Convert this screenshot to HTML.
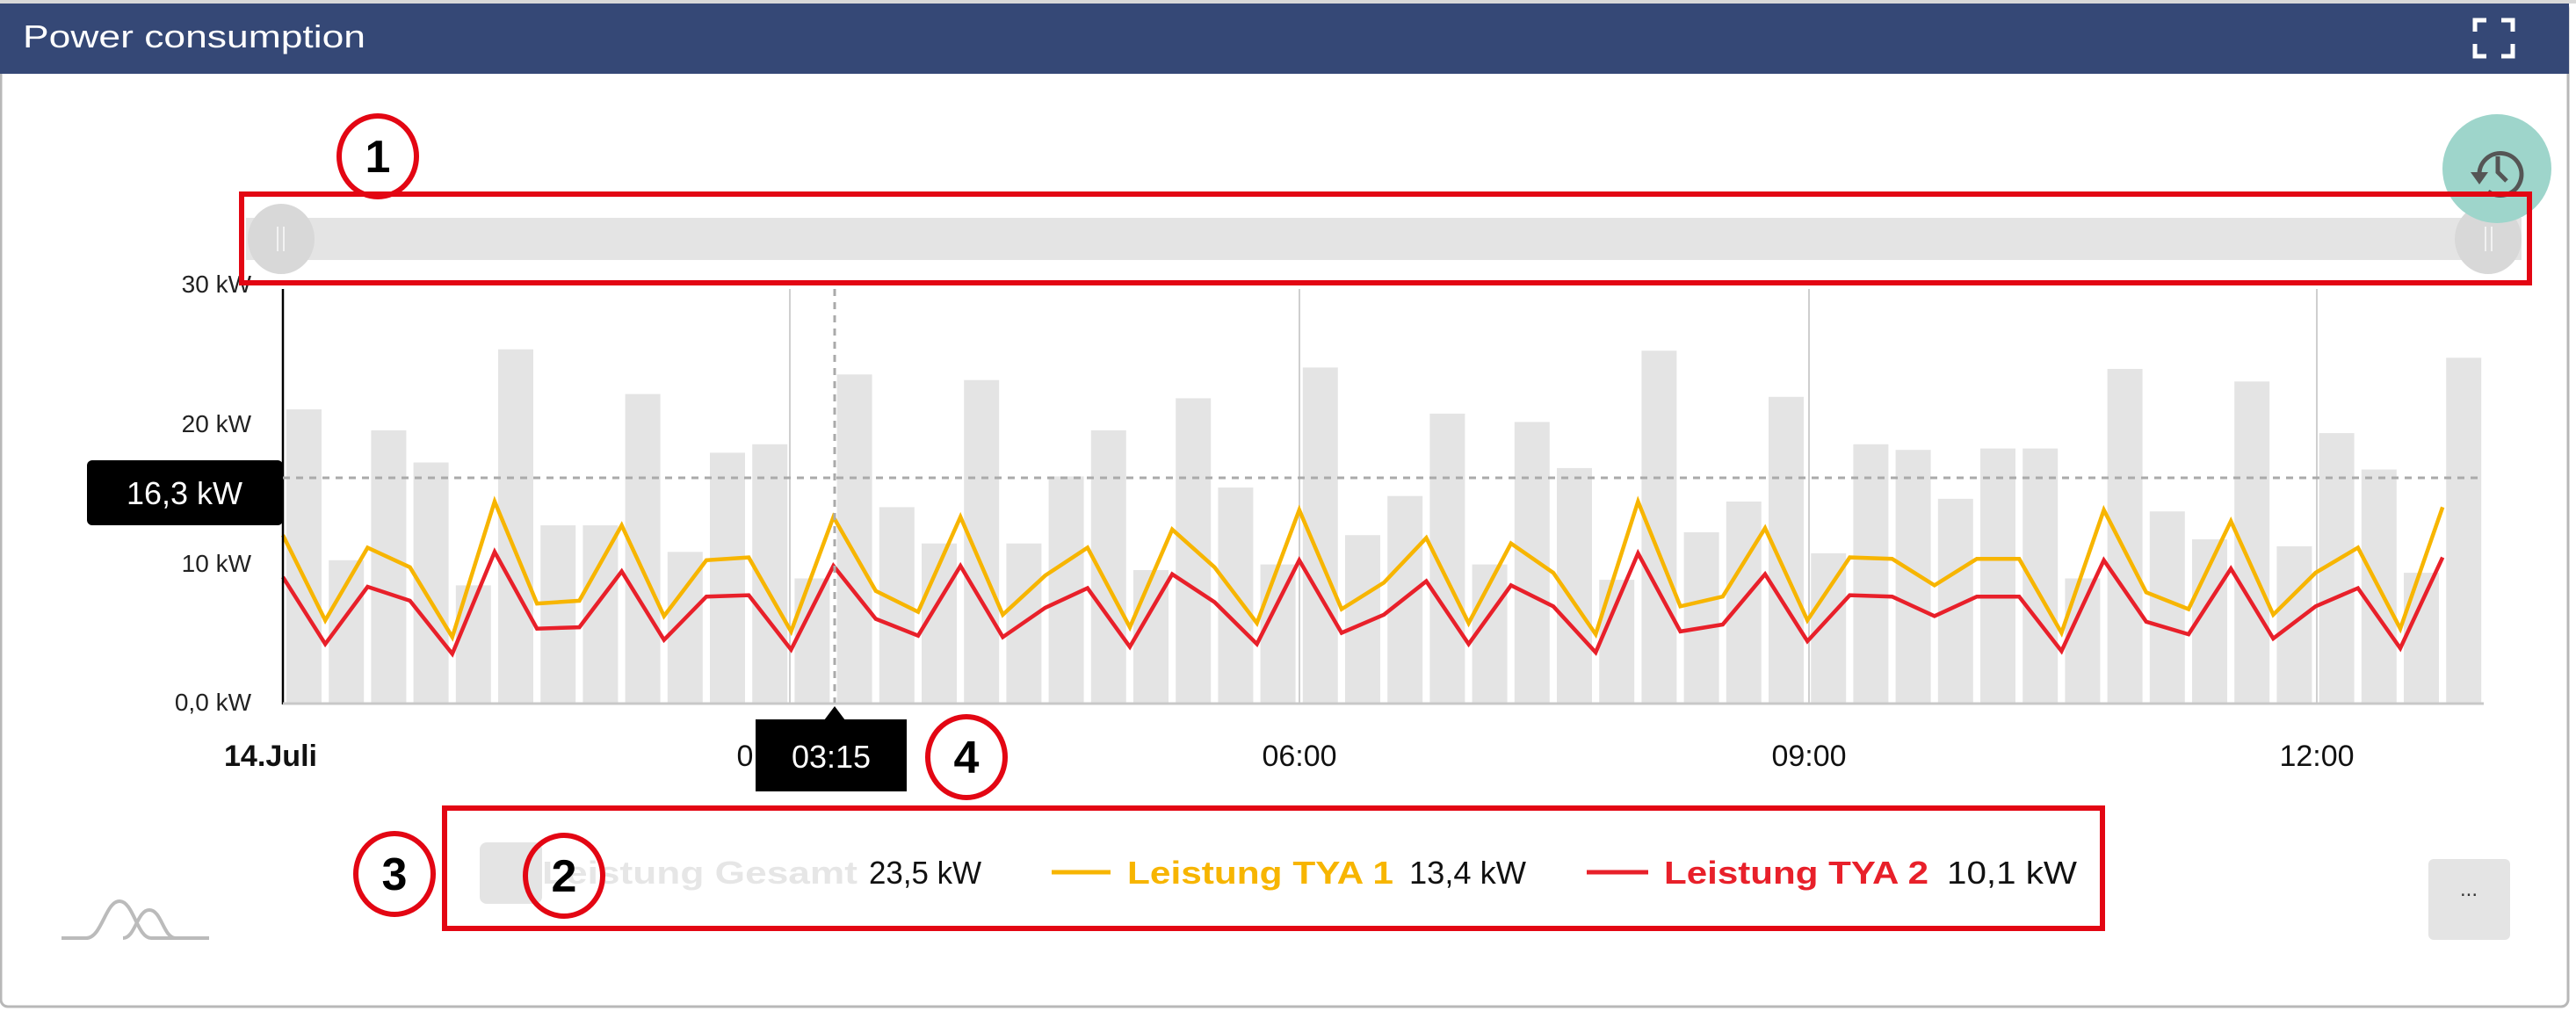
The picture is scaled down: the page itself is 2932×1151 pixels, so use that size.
<!DOCTYPE html>
<html><head><meta charset="utf-8"><style>
html,body{margin:0;padding:0;background:#fff;width:2932px;height:1151px;overflow:hidden}
svg{display:block;font-family:"Liberation Sans",sans-serif}
</style></head><body>
<svg id="s" width="2932" height="1151" viewBox="0 0 2932 1151" xmlns="http://www.w3.org/2000/svg">
<rect x="0" y="0" width="2932" height="1151" fill="#fff"/>
<rect x="1" y="2" width="2922" height="1144" rx="8" fill="#fff" stroke="#b8b8b8" stroke-width="3"/>
<rect x="0" y="0" width="2932" height="4" fill="#d8d8d8"/>
<rect x="0" y="4" width="2924" height="80" fill="#354876"/>
<text x="26" y="54" font-size="36" fill="#fff" textLength="390" lengthAdjust="spacingAndGlyphs">Power consumption</text>
<g fill="none" stroke="#fff" stroke-width="5">
<path d="M2817 36V23h13M2847 23h13v13M2860 50v14h-13M2830 64h-13V50"/>
</g>
<!-- slider -->
<rect x="280" y="248" width="2590" height="48" fill="#e4e4e4"/>
<ellipse cx="320" cy="272" rx="38" ry="40" fill="#d8d8d8"/>
<path d="M316 258v28M323 258v28" stroke="#f2f2f2" stroke-width="2"/>
<ellipse cx="2832" cy="272" rx="38" ry="40" fill="#d8d8d8"/>
<path d="M2829 258v28M2836 258v28" stroke="#f2f2f2" stroke-width="2"/>
<circle cx="2842" cy="192" r="62" fill="#9ed5cb"/>
<g fill="none" stroke="#555" stroke-width="5">
<path d="M2822 200a24 24 0 1 1 10 18"/><path d="M2843 178v18l10 10"/>
</g>
<path d="M2812 196l10 14 10 -14z" fill="#555"/>
<g id="plot"></g>
<!-- axes -->
<line x1="322" y1="329" x2="322" y2="802" stroke="#000" stroke-width="2.5"/>
<line x1="322" y1="801" x2="2827" y2="801" stroke="#c8c8c8" stroke-width="3"/>
<g font-size="28" fill="#222" text-anchor="end">
<text x="286" y="333">30 kW</text><text x="286" y="492">20 kW</text>
<text x="286" y="651">10 kW</text><text x="286" y="809">0,0 kW</text>
</g>
<line x1="322" y1="544" x2="2827" y2="544" stroke="#aaa" stroke-width="3" stroke-dasharray="8 7"/>
<line x1="950" y1="329" x2="950" y2="800" stroke="#aaa" stroke-width="3" stroke-dasharray="8 7"/>
<g font-size="34" fill="#111" text-anchor="middle">
<text x="308" y="872" font-weight="bold" textLength="106" lengthAdjust="spacingAndGlyphs">14.Juli</text>
<text x="1479" y="872">06:00</text><text x="2059" y="872">09:00</text><text x="2637" y="872">12:00</text>
<text x="848" y="872">0</text>
</g>
<!-- tooltips -->
<rect x="99" y="524" width="223" height="74" rx="6" fill="#000"/>
<text x="210" y="574" font-size="36" fill="#fff" text-anchor="middle">16,3 kW</text>
<rect x="860" y="819" width="172" height="82" fill="#000"/>
<path d="M938 820l12 -16 12 16z" fill="#000"/>
<text x="946" y="874" font-size="36" fill="#fff" text-anchor="middle">03:15</text>
<!-- legend -->
<rect x="546" y="959" width="71" height="70" rx="8" fill="#e4e4e4"/>
<g font-size="36">
<text x="617" y="1006" font-weight="bold" fill="#e6e6e6" textLength="359" lengthAdjust="spacingAndGlyphs">Leistung Gesamt</text>
<text x="989" y="1006" fill="#111" textLength="128" lengthAdjust="spacingAndGlyphs">23,5 kW</text>
<line x1="1197" y1="993" x2="1264" y2="993" stroke="#f7b500" stroke-width="5"/>
<text x="1283" y="1006" font-weight="bold" fill="#f7b500" textLength="303" lengthAdjust="spacingAndGlyphs">Leistung TYA 1</text>
<text x="1604" y="1006" fill="#111" textLength="133" lengthAdjust="spacingAndGlyphs">13,4 kW</text>
<line x1="1806" y1="993" x2="1876" y2="993" stroke="#e8202a" stroke-width="5"/>
<text x="1894" y="1006" font-weight="bold" fill="#e8202a" textLength="301" lengthAdjust="spacingAndGlyphs">Leistung TYA 2</text>
<text x="2216" y="1006" fill="#111" textLength="148" lengthAdjust="spacingAndGlyphs">10,1 kW</text>
</g>
<rect x="2764" y="978" width="93" height="92" rx="6" fill="#e4e4e4"/>
<text x="2810" y="1020" font-size="24" fill="#333" text-anchor="middle">...</text>
<g fill="none" stroke="#bbb" stroke-width="4">
<path d="M70 1068h28c18 0 22 -42 38 -42s20 42 36 42h66"/>
<path d="M140 1068c14 0 16 -32 30 -32s16 32 30 32"/>
</g>
<!-- annotations -->
<g fill="none" stroke="#e30613" stroke-width="6">
<rect x="275" y="221" width="2604" height="101"/>
<rect x="506" y="920" width="1887" height="137"/>
<ellipse cx="430" cy="178" rx="44" ry="46"/>
<ellipse cx="1100" cy="862" rx="44" ry="46"/>
<ellipse cx="449" cy="995" rx="44" ry="46"/>
<ellipse cx="642" cy="997" rx="44" ry="46"/>
</g>
<g font-size="52" font-weight="bold" fill="#000" text-anchor="middle">
<text x="430" y="196">1</text><text x="1100" y="880">4</text>
<text x="449" y="1013">3</text><text x="642" y="1015">2</text>
</g>
</svg>
<script>
var bars=[21,10.2,19.5,17.2,8.4,25.3,12.7,12.7,22.1,10.8,17.9,18.5,8.9,23.5,14,11.4,23.1,11.4,16.2,19.5,9.5,21.8,15.4,9.9,24,12,14.8,20.7,9.9,20.1,16.8,8.8,25.2,12.2,14.4,21.9,10.7,18.5,18.1,14.6,18.2,18.2,8.9,23.9,13.7,11.7,23,11.2,19.3,16.7,9.3,24.7];
var yl=[12,5.9,11.1,9.7,4.7,14.4,7.1,7.3,12.7,6.2,10.2,10.4,5.1,13.3,8,6.5,13.3,6.3,9.1,11.1,5.4,12.4,9.7,5.7,13.8,6.7,8.6,11.8,5.7,11.4,9.3,4.9,14.4,6.9,7.6,12.5,5.9,10.4,10.3,8.4,10.3,10.3,5,13.8,7.9,6.7,13,6.3,9.3,11.1,5.3,14];
var rd=[9,4.2,8.3,7.3,3.5,10.8,5.3,5.4,9.4,4.5,7.6,7.7,3.8,9.8,6,4.8,9.8,4.7,6.8,8.2,4,9.2,7.2,4.2,10.2,5,6.3,8.7,4.2,8.4,6.9,3.6,10.7,5.1,5.6,9.2,4.4,7.7,7.6,6.2,7.6,7.6,3.7,10.2,5.8,4.9,9.6,4.6,6.9,8.2,3.9,10.4];
var X0=322,DX=48.2,Y=function(v){return 800-v*15.9};
var h='';
[899,1479,2059,2637].forEach(function(x){h+='<line x1="'+x+'" y1="329" x2="'+x+'" y2="800" stroke="#cfcfcf" stroke-width="2"/>';});
for(var i=0;i<bars.length;i++){var x=X0+DX*i+4,y=Y(bars[i]);h+='<rect x="'+x.toFixed(1)+'" y="'+y.toFixed(1)+'" width="40" height="'+(800-y).toFixed(1)+'" fill="#e4e4e4"/>';}
function pl(a,c){var p=a.map(function(v,i){return (X0+DX*i).toFixed(1)+','+Y(v).toFixed(1)}).join(' ');return '<polyline points="'+p+'" fill="none" stroke="'+c+'" stroke-width="4.5" stroke-linejoin="miter"/>';}
h+=pl(yl,'#f7b500')+pl(rd,'#e8202a');
document.getElementById('plot').innerHTML=h;
</script>
</body></html>
